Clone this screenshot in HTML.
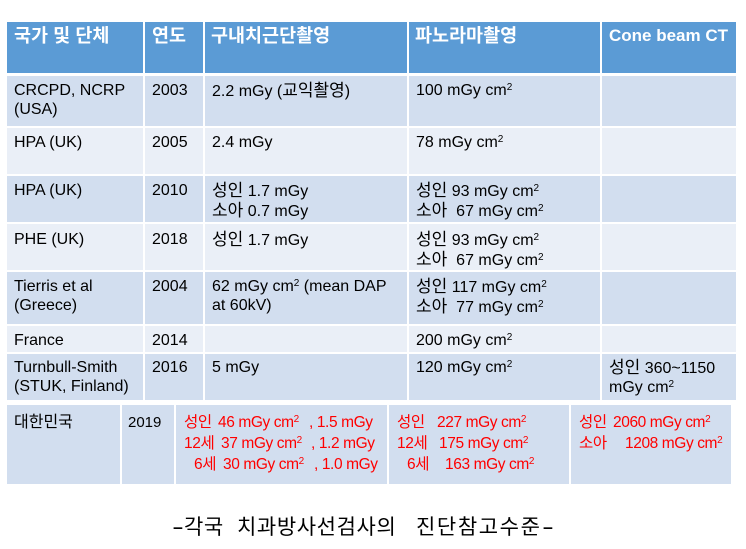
<!DOCTYPE html>
<html><head><meta charset="utf-8">
<style>
html,body{margin:0;padding:0;background:#fff;}
body{width:746px;height:549px;position:relative;overflow:hidden;}
.b{position:absolute;}
.t{position:absolute;white-space:nowrap;font-family:"Liberation Sans","Noto Sans CJK KR",sans-serif;font-size:16px;line-height:19px;color:#000;}
.h{font-weight:bold;font-size:17px;line-height:20px;color:#fff;top:26px;}
.hk{font-size:18.5px;}
.ko{font-size:17px;}
.r{position:absolute;white-space:nowrap;font-family:"Liberation Sans","Noto Sans CJK KR",sans-serif;font-size:15.5px;line-height:19px;color:#ff0000;letter-spacing:-0.4px;}
.k{font-size:16px;}
sup{font-size:10px;vertical-align:5px;line-height:0;}
.cap{position:absolute;white-space:nowrap;font-family:"Liberation Sans","Noto Sans CJK KR",sans-serif;font-size:21px;line-height:24px;color:#000;top:516px;letter-spacing:0.6px;}
.dash{display:inline-block;width:12px;transform:scaleX(1.7);transform-origin:0 50%;letter-spacing:0;}
</style></head><body>
<!-- main table backgrounds -->
<div class="b" style="left:7px;top:22px;width:729px;height:51px;background:#5b9bd5"></div>
<div class="b" style="left:7px;top:76px;width:729px;height:50px;background:#d2deef"></div>
<div class="b" style="left:7px;top:128px;width:729px;height:46px;background:#eaeff7"></div>
<div class="b" style="left:7px;top:176px;width:729px;height:46px;background:#d2deef"></div>
<div class="b" style="left:7px;top:224px;width:729px;height:46px;background:#eaeff7"></div>
<div class="b" style="left:7px;top:272px;width:729px;height:52px;background:#d2deef"></div>
<div class="b" style="left:7px;top:326px;width:729px;height:26px;background:#eaeff7"></div>
<div class="b" style="left:7px;top:354px;width:729px;height:46px;background:#d2deef"></div>
<!-- vertical white lines main -->
<div class="b" style="left:143px;top:22px;width:2px;height:378px;background:#fff"></div>
<div class="b" style="left:203px;top:22px;width:2px;height:378px;background:#fff"></div>
<div class="b" style="left:407px;top:22px;width:2px;height:378px;background:#fff"></div>
<div class="b" style="left:600px;top:22px;width:2px;height:378px;background:#fff"></div>
<!-- second table -->
<div class="b" style="left:7px;top:405px;width:724px;height:79px;background:#d2deef"></div>
<div class="b" style="left:120px;top:405px;width:2px;height:79px;background:#fff"></div>
<div class="b" style="left:174px;top:405px;width:2px;height:79px;background:#fff"></div>
<div class="b" style="left:387px;top:405px;width:2px;height:79px;background:#fff"></div>
<div class="b" style="left:569px;top:405px;width:2px;height:79px;background:#fff"></div>

<!-- header -->
<div class="t h" style="left:14px"><span class="hk">국가 및 단체</span></div>
<div class="t h" style="left:152px"><span class="hk">연도</span></div>
<div class="t h" style="left:211px"><span class="hk">구내치근단촬영</span></div>
<div class="t h" style="left:415px"><span class="hk">파노라마촬영</span></div>
<div class="t h" style="left:609px">Cone beam CT</div>

<!-- r1 -->
<div class="t" style="left:14px;top:81px">CRCPD, NCRP<br>(USA)</div>
<div class="t" style="left:152px;top:81px">2003</div>
<div class="t" style="left:212px;top:81px">2.2 mGy (<span class="ko">교익촬영</span>)</div>
<div class="t" style="left:416px;top:81px">100 mGy cm<sup>2</sup></div>
<!-- r2 -->
<div class="t" style="left:14px;top:133px">HPA (UK)</div>
<div class="t" style="left:152px;top:133px">2005</div>
<div class="t" style="left:212px;top:133px">2.4 mGy</div>
<div class="t" style="left:416px;top:133px">78 mGy cm<sup>2</sup></div>
<!-- r3 -->
<div class="t" style="left:14px;top:181px">HPA (UK)</div>
<div class="t" style="left:152px;top:181px">2010</div>
<div class="t" style="left:212px;top:181px"><span class="ko">성인</span> 1.7 mGy<br><span class="ko">소아</span> 0.7 mGy</div>
<div class="t" style="left:416px;top:181px"><span class="ko">성인</span> 93 mGy cm<sup>2</sup><br><span class="ko">소아</span> &nbsp;67 mGy cm<sup>2</sup></div>
<!-- r4 -->
<div class="t" style="left:14px;top:230px">PHE (UK)</div>
<div class="t" style="left:152px;top:230px">2018</div>
<div class="t" style="left:212px;top:230px"><span class="ko">성인</span> 1.7 mGy</div>
<div class="t" style="left:416px;top:230px"><span class="ko">성인</span> 93 mGy cm<sup>2</sup><br><span class="ko">소아</span> &nbsp;67 mGy cm<sup>2</sup></div>
<!-- r5 -->
<div class="t" style="left:14px;top:277px">Tierris et al<br>(Greece)</div>
<div class="t" style="left:152px;top:277px">2004</div>
<div class="t" style="left:212px;top:277px">62 mGy cm<sup>2</sup> (mean DAP<br>at 60kV)</div>
<div class="t" style="left:416px;top:277px"><span class="ko">성인</span> 117 mGy cm<sup>2</sup><br><span class="ko">소아</span> &nbsp;77 mGy cm<sup>2</sup></div>
<!-- r6 -->
<div class="t" style="left:14px;top:331px">France</div>
<div class="t" style="left:152px;top:331px">2014</div>
<div class="t" style="left:416px;top:331px">200 mGy cm<sup>2</sup></div>
<!-- r7 -->
<div class="t" style="left:14px;top:358px">Turnbull-Smith<br>(STUK, Finland)</div>
<div class="t" style="left:152px;top:358px">2016</div>
<div class="t" style="left:212px;top:358px">5 mGy</div>
<div class="t" style="left:416px;top:358px">120 mGy cm<sup>2</sup></div>
<div class="t" style="left:609px;top:358px"><span class="ko">성인</span> 360~1150<br>mGy cm<sup>2</sup></div>

<!-- table 2 -->
<div class="t k" style="left:14px;top:413px">대한민국</div>
<div class="t" style="left:128px;top:413px;font-size:15px">2019</div>

<div class="r" style="left:184px;top:413px">성인</div>
<div class="r" style="left:218px;top:413px">46 mGy cm<sup>2</sup></div>
<div class="r" style="left:309px;top:413px">, 1.5 mGy</div>
<div class="r" style="left:184px;top:434px">12세</div>
<div class="r" style="left:221px;top:434px">37 mGy cm<sup>2</sup></div>
<div class="r" style="left:311px;top:434px">, 1.2 mGy</div>
<div class="r" style="left:194px;top:455px">6세</div>
<div class="r" style="left:223px;top:455px">30 mGy cm<sup>2</sup></div>
<div class="r" style="left:314px;top:455px">, 1.0 mGy</div>

<div class="r" style="left:397px;top:413px">성인</div>
<div class="r" style="left:437px;top:413px">227 mGy cm<sup>2</sup></div>
<div class="r" style="left:397px;top:434px">12세</div>
<div class="r" style="left:439px;top:434px">175 mGy cm<sup>2</sup></div>
<div class="r" style="left:407px;top:455px">6세</div>
<div class="r" style="left:445px;top:455px">163 mGy cm<sup>2</sup></div>

<div class="r" style="left:579px;top:413px">성인</div>
<div class="r" style="left:613px;top:413px">2060 mGy cm<sup>2</sup></div>
<div class="r" style="left:579px;top:434px">소아</div>
<div class="r" style="left:625px;top:434px">1208 mGy cm<sup>2</sup></div>

<!-- caption -->
<div class="cap" style="left:172px"><span class="dash">-</span>각국</div>
<div class="cap" style="left:237px">치과방사선검사의</div>
<div class="cap" style="left:416px;letter-spacing:1.6px">진단참고수준<span class="dash">-</span></div>
</body></html>
